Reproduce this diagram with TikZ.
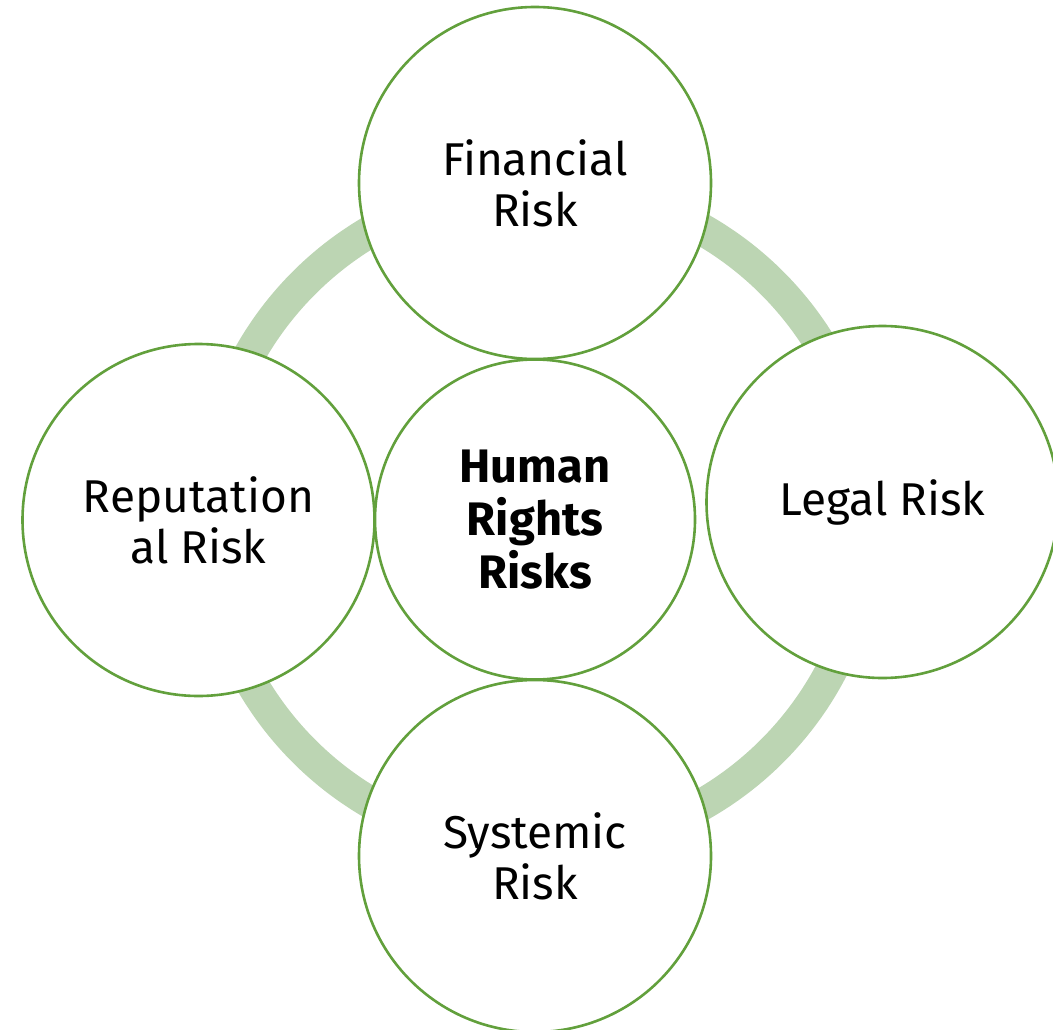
\documentclass[tikz,border=0pt]{standalone}
\usepackage{fontspec}
\setmainfont{Fira Sans}
\definecolor{ringgreen}{HTML}{BCD5B3}
\definecolor{edgegreen}{HTML}{62A03C}
\begin{document}
\begin{tikzpicture}[x=1pt,y=-1pt,
  riskcircle/.style={circle, draw=edgegreen, line width=2.6pt, fill=white,
    inner sep=0pt, minimum size=#1, align=center, text=black,
    font=\fontsize{46}{51}\selectfont},
  hubtext/.style={font=\fontsize{47}{53}\selectfont\bfseries}]
\useasboundingbox (0,0) rectangle (1053,1030);

% connecting ring behind the circles
\draw[ringgreen, line width=32pt] (538,517) circle[radius=331];

% outer risk circles
\node[riskcircle=352pt] (fin) at (535,183) {Financial\\Risk};
\node[riskcircle=352pt] (rep) at (198.5,520) {Reputation\\al Risk};
\node[riskcircle=352pt] (leg) at (882.5,502) {Legal Risk};
\node[riskcircle=352pt] (sys) at (535,856) {Systemic\\Risk};

% central hub
\node[riskcircle=320pt, hubtext] (hub) at (535,519.5) {Human\\Rights\\Risks};
\end{tikzpicture}
\end{document}
